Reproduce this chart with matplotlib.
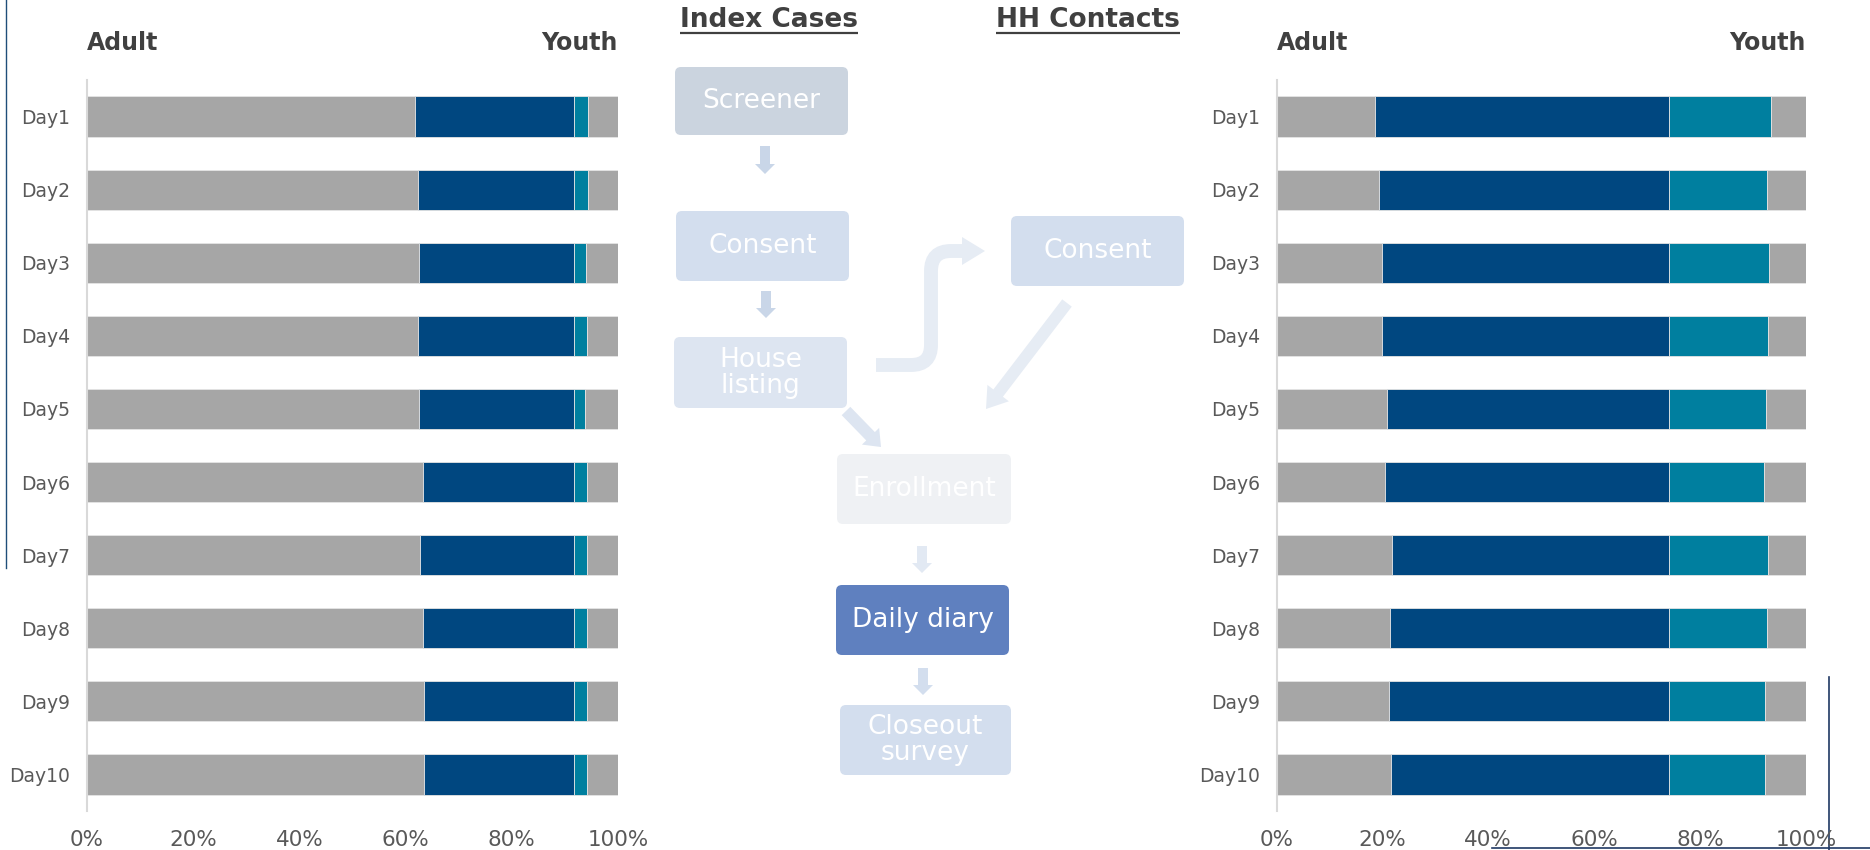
import numpy as np
import matplotlib
matplotlib.use("Agg")
import matplotlib.pyplot as plt
from matplotlib.patches import FancyBboxPatch, FancyArrow, Polygon, PathPatch
from matplotlib.path import Path
from matplotlib.lines import Line2D

plt.rcParams['font.family'] = ['DejaVu Sans']

# ---- data (percent of each day's bar) ----
days = ['Day1', 'Day2', 'Day3', 'Day4', 'Day5', 'Day6', 'Day7', 'Day8', 'Day9', 'Day10']
ticks = [0, 20, 40, 60, 80, 100]
tick_labels = ['0%', '20%', '40%', '60%', '80%', '100%']

# Index cases
idx_grey1 = [61.8, 62.3, 62.5, 62.3, 62.5, 63.2, 62.8, 63.2, 63.5, 63.4]
idx_navy = [30.0, 29.5, 29.3, 29.5, 29.3, 28.6, 29.0, 28.6, 28.3, 28.4]
idx_teal = [2.55, 2.55, 2.2, 2.4, 2.0, 2.4, 2.4, 2.4, 2.4, 2.3]

# Household contacts
hh_grey1 = [18.6, 19.4, 19.9, 19.9, 20.9, 20.5, 21.9, 21.5, 21.2, 21.6]
hh_navy = [55.5, 54.7, 54.2, 54.2, 53.2, 53.6, 52.2, 52.6, 52.9, 52.5]
hh_teal = [19.3, 18.5, 18.9, 18.7, 18.3, 18.0, 18.7, 18.5, 18.2, 18.2]

panel_titles = ['Index Cases', 'HH Contacts']
side_labels = ['Adult', 'Youth']

GREY = '#a6a6a6'
NAVY = '#004780'
TEAL = '#007f9f'
TXT = '#404040'
TICK = '#595959'

fig = plt.figure(figsize=(18.7, 8.5), dpi=100)

# overlay in pixel coordinates for the flow diagram
fc = fig.add_axes([0, 0, 1, 1])
fc.set_xlim(0, 1870)
fc.set_ylim(850, 0)
fc.axis('off')


def stacked(ax, grey1, navy, teal):
    grey1 = np.array(grey1)
    navy = np.array(navy)
    teal = np.array(teal)
    grey2 = 100 - grey1 - navy - teal
    y = np.arange(len(days))
    left = np.zeros(len(days))
    for vals, col in [(grey1, GREY), (navy, NAVY), (teal, TEAL), (grey2, GREY)]:
        ax.barh(y, vals, left=left, height=0.55, color=col,
                edgecolor='#e4e4e4', linewidth=0.6)
        left = left + vals
    ax.set_ylim(len(days) - 0.5, -0.5)
    ax.set_xlim(0, 100)
    ax.set_yticks(y)
    ax.set_yticklabels(days, fontsize=13.5, color=TICK)
    ax.set_xticks(ticks)
    ax.set_xticklabels(tick_labels, fontsize=15.5, color=TICK)
    ax.tick_params(axis='x', length=0, pad=14)
    ax.tick_params(axis='y', length=0, pad=12)
    for s in ['top', 'right', 'bottom']:
        ax.spines[s].set_visible(False)
    ax.spines['left'].set_color('#d9d9d9')
    ax.spines['left'].set_linewidth(1.5)
    ax.set_facecolor('none')
    ax.text(0, 1.05, side_labels[0], transform=ax.transAxes, ha='left',
            va='center', fontsize=17, fontweight='bold', color=TXT)
    ax.text(1, 1.05, side_labels[1], transform=ax.transAxes, ha='right',
            va='center', fontsize=17, fontweight='bold', color=TXT)


axL = fig.add_axes([87 / 1870, 39 / 850, 531 / 1870, 731 / 850])
stacked(axL, idx_grey1, idx_navy, idx_teal)
axR = fig.add_axes([1276.5 / 1870, 39 / 850, 529.5 / 1870, 731 / 850])
stacked(axR, hh_grey1, hh_navy, hh_teal)

# ---- panel titles (underlined) ----
t1 = fc.text(680, 20, panel_titles[0], ha='left', va='center', fontsize=19,
             fontweight='bold', color=TXT)
t2 = fc.text(996, 20, panel_titles[1], ha='left', va='center', fontsize=19,
             fontweight='bold', color=TXT)
fig.canvas.draw()
inv = fc.transData.inverted()
for t in (t1, t2):
    bb = t.get_window_extent()
    (x0, _), (x1, _) = inv.transform([(bb.x0, 0), (bb.x1, 0)])
    fc.plot([x0, x1], [33, 33], color=TXT, lw=1.6, solid_capstyle='butt')

# ---- flow boxes ----
boxes = [
    ('Screener', 675, 67, 848, 135, '#cbd4df'),
    ('Consent', 676, 211, 849, 281, '#d3deee'),
    ('House\nlisting', 674, 337, 847, 408, '#dde5f1'),
    ('Consent', 1011, 216, 1184, 286, '#d3deee'),
    ('Enrollment', 837, 454, 1011, 524, '#eff1f4'),
    ('Daily diary', 836, 585, 1009, 655, '#5f80bf'),
    ('Closeout\nsurvey', 840, 705, 1011, 775, '#d3deee'),
]
for label, x0, y0, x1, y1, col in boxes:
    fc.add_patch(FancyBboxPatch((x0, y0), x1 - x0, y1 - y0,
                                boxstyle='round,pad=0,rounding_size=6',
                                facecolor=col, edgecolor='none'))
    fc.text((x0 + x1) / 2, (y0 + y1) / 2, label, ha='center', va='center',
            fontsize=19, color='white', linespacing=1.0)


def block_arrow(x0, y0, x1, y1, w, hw, hl, col):
    fc.add_patch(FancyArrow(x0, y0, x1 - x0, y1 - y0, width=w, head_width=hw,
                            head_length=hl, length_includes_head=True,
                            facecolor=col, edgecolor='none'))


block_arrow(765, 146, 765, 174, 10, 20, 10, '#c9d6e8')
block_arrow(766, 291, 766, 318, 10, 20, 10, '#c9d6e8')
block_arrow(922, 546, 922, 573, 10, 20, 10, '#e2e9f3')
block_arrow(923, 668, 923, 695, 10, 20, 10, '#d3deee')
block_arrow(846, 411, 881, 447, 12, 24, 15, '#dde5f1')
block_arrow(1067, 303, 986, 409, 12, 27, 20, '#e6ecf4')

# curved arrow from House listing up to HH Consent
verts = [(876, 365), (911, 365), (931, 365), (931, 345), (931, 271),
         (931, 251), (951, 251), (963, 251)]
codes = [Path.MOVETO, Path.LINETO, Path.CURVE3, Path.CURVE3, Path.LINETO,
         Path.CURVE3, Path.CURVE3, Path.LINETO]
fc.add_patch(PathPatch(Path(verts, codes), facecolor='none',
                       edgecolor='#e6ecf4', lw=10, capstyle='butt',
                       joinstyle='miter'))
fc.add_patch(Polygon([(962, 237), (985, 251), (962, 265)], closed=True,
                     facecolor='#e6ecf4', edgecolor='none'))

# stray slide lines
fc.add_line(Line2D([6, 6], [0, 568], color='#1f4e79', lw=1))
fc.add_line(Line2D([1829, 1829], [677, 850], color='#1f3864', lw=1.2))
fc.add_line(Line2D([1492, 1870], [848, 848], color='#1f3864', lw=1.2))

fig.savefig('out.png', dpi=100)
